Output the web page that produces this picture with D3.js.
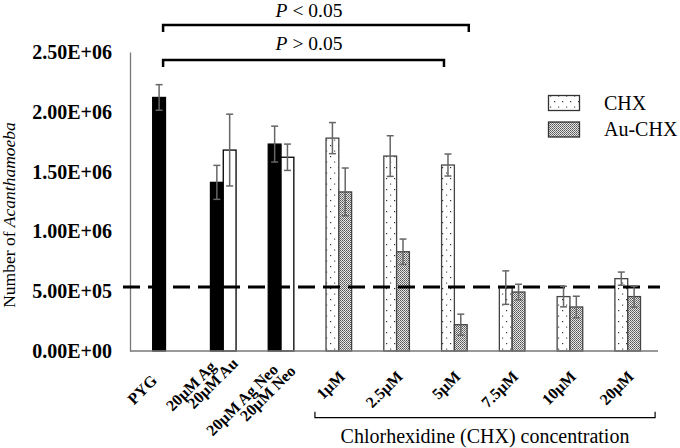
<!DOCTYPE html>
<html><head><meta charset="utf-8">
<script src="https://cdn.jsdelivr.net/npm/d3@7"></script>
<style>body{margin:0;background:#fff}svg{display:block}</style>
</head><body><svg id="c" width="680" height="448"></svg>
<script>
const categories = ["PYG","20µM Ag / 20µM Au","20µM Ag Neo / 20µM Neo","1µM","2.5µM","5µM","7.5µM","10µM","20µM"];
const tickLabels = [["PYG"],["20µM Ag","20µM Au"],["20µM Ag Neo","20µM Neo"],["1µM"],["2.5µM"],["5µM"],["7.5µM"],["10µM"],["20µM"]];
const leftValues  = [2.12e6,1.41e6,1.73e6,1.78e6,1.63e6,1.555e6,5.3e5,4.55e5,6.05e5];
const leftErrors  = [1.07e5,1.42e5,1.5e5,1.3e5,1.7e5,9.2e4,1.4e5,8.6e4,5.5e4];
const rightValues = [null,1.68e6,1.62e6,1.33e6,8.3e5,2.2e5,4.93e5,3.68e5,4.55e5];
const rightErrors = [null,3.0e5,1.1e5,2.0e5,1.06e5,8.8e4,6.5e4,9e4,8.8e4];
const yTicks = [0,5e5,1e6,1.5e6,2e6,2.5e6];
const yTickLabels = ["0.00E+00","5.00E+05","1.00E+06","1.50E+06","2.00E+06","2.50E+06"];
const thresholdValue = 5.35e5;
const legendLabels = ["CHX","Au-CHX"];
const pLabels = [["P"," < 0.05"],["P"," > 0.05"]];
const groupTitle = "Chlorhexidine (CHX) concentration";

const svg = d3.select("#c");
const serif = "'Liberation Serif','Times New Roman',serif";
const axisL = 130, axisR = 658, axisB = 351, axisT = 52;

const defs = svg.append("defs");
const p1 = defs.append("pattern").attr("id","chx").attr("patternUnits","userSpaceOnUse").attr("width",8).attr("height",11);
p1.append("rect").attr("width",8).attr("height",11).attr("fill","#fff");
p1.append("rect").attr("x",2).attr("y",2).attr("width",1.2).attr("height",1.2).attr("fill","#333");
p1.append("rect").attr("x",6).attr("y",7.5).attr("width",1.2).attr("height",1.2).attr("fill","#555");
const p2 = defs.append("pattern").attr("id","auchx").attr("patternUnits","userSpaceOnUse").attr("width",2).attr("height",2);
p2.append("rect").attr("width",2).attr("height",2).attr("fill","#e6e6e6");
p2.append("rect").attr("x",0).attr("y",0).attr("width",1).attr("height",1).attr("fill","#555");
p2.append("rect").attr("x",1).attr("y",1).attr("width",1).attr("height",1).attr("fill","#777");

const x0 = d3.scaleBand().domain(categories).range([136.6, 656.6]).paddingInner(0).paddingOuter(0);
const x1 = d3.scaleBand().domain(["left","right"]).range([0, 25.6]);
const y = d3.scaleLinear().domain([0, 2.5e6]).range([axisB, axisT]);
const cx = c => x0(c) + x0.bandwidth()/2;

// y axis
const ya = svg.append("g").attr("transform",`translate(${axisL},0)`)
  .call(d3.axisLeft(y).tickValues(yTicks).tickSize(0).tickPadding(18).tickFormat((d,i)=>yTickLabels[i]));
ya.select(".domain").attr("stroke","#777").attr("stroke-width",1.3);
ya.selectAll("text").attr("font-family",serif).attr("font-size",20).attr("font-weight","bold").attr("fill","#000");

// y title
svg.append("text").attr("transform",`translate(15,215) rotate(-90)`).attr("text-anchor","middle")
  .attr("font-family",serif).attr("font-size",17.5).attr("fill","#000")
  .call(t=>{t.append("tspan").text("Number of ");t.append("tspan").attr("font-style","italic").text("Acanthamoeba");});

// bars
const bars = [];
categories.forEach((c,i)=>{
  const base = cx(c) - x1.bandwidth();
  bars.push({c,i,side:"left",v:leftValues[i],e:leftErrors[i],x:base + x1("left")});
  if (rightValues[i]!=null) bars.push({c,i,side:"right",v:rightValues[i],e:rightErrors[i],x:base + x1("right")});
});
const bw = x1.bandwidth();
svg.append("g").selectAll("rect").data(bars).join("rect")
  .attr("x",d=>d.x).attr("y",d=>y(d.v)).attr("width",bw).attr("height",d=>y(0)-y(d.v))
  .attr("fill",d=> d.i<3 ? (d.side==="left"?"#000":"#fff") : (d.side==="left"?"url(#chx)":"url(#auchx)"))
  .attr("stroke",d=> d.i<3 ? "#000" : "#444").attr("stroke-width",1.3);

// x axis line
svg.append("line").attr("x1",axisL).attr("x2",axisR).attr("y1",axisB).attr("y2",axisB).attr("stroke","#777").attr("stroke-width",1.3);

// threshold dashed line
svg.append("line").attr("x1",axisL-7).attr("x2",axisR+2).attr("y1",y(thresholdValue)).attr("y2",y(thresholdValue))
  .attr("stroke","#000").attr("stroke-width",3).attr("stroke-dasharray","17,8");

// error bars
const eg = svg.append("g").attr("stroke","#666").attr("stroke-width",1.5);
bars.forEach(d=>{
  const xm = d.x + bw/2;
  eg.append("line").attr("x1",xm).attr("x2",xm).attr("y1",y(d.v+d.e)).attr("y2",y(d.v-d.e));
  [d.v+d.e,d.v-d.e].forEach(v=>eg.append("line").attr("x1",xm-3.5).attr("x2",xm+3.5).attr("y1",y(v)).attr("y2",y(v)));
});

// x tick labels
const lab = svg.append("g").attr("font-family",serif).attr("font-size",16).attr("font-weight","bold").attr("fill","#000");
const offsets = (i,j)=>{
  if (i===0) return [-7.5,381.5];
  if (i===1) return j===0?[-6.3,367.5]:[15.7,364.5];
  if (i===2) return j===0?[-2,370.5]:[15.7,372];
  return [7,377.5];
};
tickLabels.forEach((lines,i)=>{
  lines.forEach((t,j)=>{
    const [dx,yy] = offsets(i,j);
    lab.append("text").attr("text-anchor","end").attr("transform",`translate(${cx(categories[i])+dx},${yy}) rotate(-45)`).text(t);
  });
});

// CHX bracket
const bL = x0("1µM")+5, bR = x0("20µM")+x0.bandwidth()-1.5;
svg.append("path").attr("d",`M${bL},411.7V417.7H${bR}V411.7`).attr("fill","none").attr("stroke","#000").attr("stroke-width",1.2);
svg.append("text").attr("x",(bL+bR)/2).attr("y",443).attr("text-anchor","middle").attr("font-family",serif).attr("font-size",20).attr("fill","#000").text(groupTitle);

// significance brackets
const pyx = cx("PYG") - bw/2 + 4;
const brk = [{x2: cx("5µM")+bw/2+8, yb:25, ty:16.5}, {x2: cx("5µM")-bw/2-4, yb:60, ty:49.5}];
brk.forEach((b,k)=>{
  svg.append("path").attr("d",`M${pyx},${b.yb+7}V${b.yb}H${b.x2}V${b.yb+7}`).attr("fill","none").attr("stroke","#000").attr("stroke-width",2.5);
  svg.append("text").attr("x",309).attr("y",b.ty).attr("text-anchor","middle").attr("font-family",serif).attr("font-size",19.5).attr("fill","#000")
    .call(t=>{t.append("tspan").attr("font-style","italic").text(pLabels[k][0]);t.append("tspan").text(pLabels[k][1]);});
});

// legend
const lg = svg.append("g");
legendLabels.forEach((l,k)=>{
  lg.append("rect").attr("x",548.5).attr("y",95.5+k*26.5).attr("width",31).attr("height",15)
    .attr("fill",k===0?"url(#chx)":"url(#auchx)").attr("stroke","#333").attr("stroke-width",1.3);
  lg.append("text").attr("x",604).attr("y",110+k*26).attr("font-family",serif).attr("font-size",20).attr("fill","#000").text(l);
});
</script></body></html>
